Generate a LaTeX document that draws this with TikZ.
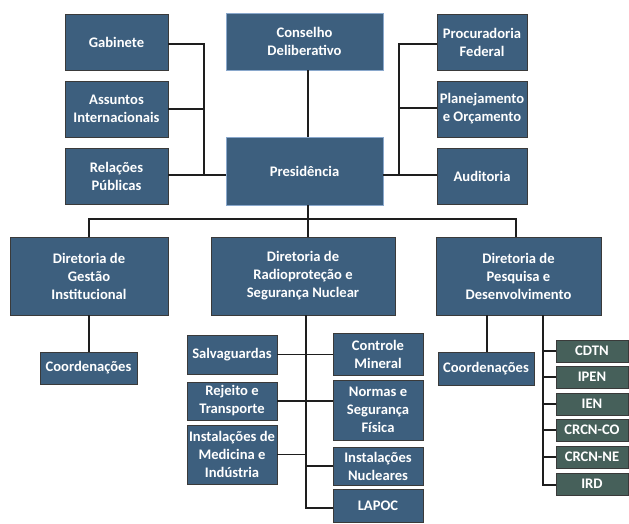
\documentclass[tikz,border=0pt]{standalone}
\usepackage{fontspec}
\setmainfont{Carlito}
\definecolor{boxblue}{HTML}{3D5F7E}
\definecolor{boxgreen}{HTML}{46605A}
\definecolor{edgegray}{HTML}{3A3A3A}
\definecolor{edgeblue}{HTML}{8AA8CC}
\definecolor{linecol}{HTML}{1E1E1E}
\begin{document}
\begin{tikzpicture}[x=1pt,y=-1pt,
  box/.style={draw=edgegray,line width=0.8pt,fill=boxblue,text=white,font=\fontsize{14.6}{18}\selectfont\bfseries,align=center,inner sep=1pt,anchor=center},
  topbox/.style={box,draw=edgeblue},
  gbox/.style={box,fill=boxgreen,minimum width=72pt,minimum height=22pt},
  conn/.style={draw=linecol,line width=1.7pt}]
\useasboundingbox (0,0) rectangle (629,523);
% top left
\node[box,minimum width=103pt,minimum height=56pt] (gab) at (116.5,42) {Gabinete};
\node[box,minimum width=103pt,minimum height=56pt] (ass) at (116.5,109) {Assuntos\\Internacionais};
\node[box,minimum width=103pt,minimum height=56pt] (rel) at (116.5,176) {Relações\\Públicas};
% centre
\node[topbox,minimum width=157pt,minimum height=57pt] (con) at (304.5,41.5) {Conselho\\Deliberativo};
\node[topbox,minimum width=157pt,minimum height=68pt] (pres) at (304.5,171) {Presidência};
% top right
\node[box,minimum width=90pt,minimum height=56pt] (pro) at (482,42) {Procuradoria\\Federal};
\node[box,minimum width=90pt,minimum height=56pt] (pla) at (482,109) {Planejamento\\e Orçamento};
\node[box,minimum width=90pt,minimum height=56pt] (aud) at (482,176) {Auditoria};
% directorates
\node[box,minimum width=158pt,minimum height=78pt] (dg) at (89,276) {Diretoria de\\Gestão\\Institucional};
\node[box,minimum width=184pt,minimum height=78pt] (dr) at (303,276) {Diretoria de\\Radioproteção e\\Segurança Nuclear};
\node[box,minimum width=165pt,minimum height=78pt] (dp) at (518.5,276) {Diretoria de\\Pesquisa e\\Desenvolvimento};
% below
\node[box,minimum width=97pt,minimum height=32pt] (coL) at (88.5,368) {Coordenações};
\node[box,minimum width=90pt,minimum height=39pt] (salv) at (232,354.5) {Salvaguardas};
\node[box,minimum width=90pt,minimum height=38pt] (rej) at (232,401) {Rejeito e\\Transporte};
\node[box,minimum width=90pt,minimum height=59pt] (med) at (232,454.5) {Instalações de\\Medicina e\\Indústria};
\node[box,minimum width=90pt,minimum height=42pt] (ctrl) at (378,354) {Controle\\Mineral};
\node[box,minimum width=90pt,minimum height=60pt] (norm) at (378,410) {Normas e\\Segurança\\Física};
\node[box,minimum width=90pt,minimum height=38pt] (inst) at (378,466) {Instalações\\Nucleares};
\node[box,minimum width=90pt,minimum height=33pt] (lap) at (378,505.5) {LAPOC};
\node[box,minimum width=96pt,minimum height=33pt] (coR) at (486,368.5) {Coordenações};
\node[gbox] (cdtn) at (592,351) {CDTN};
\node[gbox] (ipen) at (592,377) {IPEN};
\node[gbox] (ien) at (592,404) {IEN};
\node[gbox] (crco) at (592,430) {CRCN-CO};
\node[gbox] (crne) at (592,457) {CRCN-NE};
\node[gbox] (ird) at (592,484) {IRD};
% bus coordinates
\coordinate (lb) at (204,175);
\coordinate (rb) at (399,175);
\coordinate (bus) at (308,219);
\coordinate (drv) at (306,508);
\coordinate (dpv) at (543,485);
% connectors
\draw[conn] (con.south -| bus) -- (pres.north -| bus);
\draw[conn] (gab.east |- 0,44) -| (lb) -- (pres.west |- lb);
\draw[conn] (ass.east |- 0,109) -- (204,109);
\draw[conn] (rel.east |- lb) -- (lb);
\draw[conn] (pro.west |- 0,44) -| (rb) -- (pres.east |- rb);
\draw[conn] (pla.west |- 0,108) -- (399,108);
\draw[conn] (aud.west |- rb) -- (rb);
\draw[conn] (pres.south -| bus) -- (dr.north -| bus);
\draw[conn] (dg.north) |- (bus) -| (dp.north -| 516,0);
\draw[conn] (dg.south) -- (coL.north -| dg.south);
\draw[conn] (dr.south -| drv) -- (drv) -- (lap.west |- drv);
\draw[conn] (salv.east) -- (ctrl.west |- salv.east);
\draw[conn] (rej.east) -- (norm.west |- rej.east);
\draw[conn] (med.east) -- (306,454.5);
\draw[conn] (306,466) -- (inst.west);
\draw[conn] (dp.south -| 487,0) -- (coR.north -| 487,0);
\draw[conn] (dp.south -| dpv) -- (dpv) -- (ird.west |- dpv);
\foreach \n in {cdtn,ipen,ien,crco,crne} \draw[conn] (543,0 |- \n.west) -- (\n.west);
\end{tikzpicture}
\end{document}
